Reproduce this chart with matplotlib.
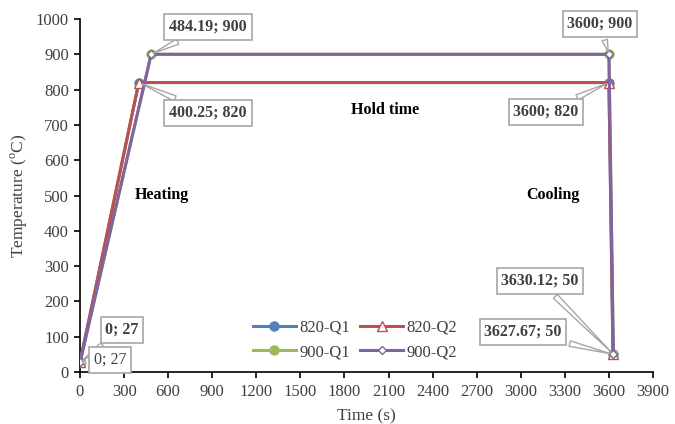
import matplotlib
matplotlib.use("Agg")
import matplotlib.pyplot as plt

plt.rcParams['font.family'] = ['Liberation Serif', 'DejaVu Serif']
plt.rcParams['mathtext.fontset'] = 'custom'
plt.rcParams['mathtext.rm'] = 'Liberation Serif'

# Data
t_820 = [0, 400.25, 3600, 3627.67]
T_820 = [27, 820, 820, 50]
t_900 = [0, 484.19, 3600, 3630.12]
T_900 = [27, 900, 900, 50]
series_names = ['820-Q1', '820-Q2', '900-Q1', '900-Q2']
x_ticks = list(range(0, 3901, 300))
y_ticks = list(range(0, 1001, 100))

c_blue = '#4F81BD'
c_red = '#C0504D'
c_green = '#9BBB59'
c_purple = '#8064A2'

W, H = 675, 424
fig = plt.figure(figsize=(W/100, H/100), dpi=100)
ax = fig.add_axes([80/W, (H-372)/H, (653-80)/W, (372-19)/H])

h1, = ax.plot(t_820, T_820, color=c_blue, lw=2.2, marker='o', ms=6.5, mfc=c_blue, mec=c_blue, label=series_names[0], zorder=3)
h2, = ax.plot(t_820, T_820, color=c_red, lw=2.2, marker='^', ms=6.5, mfc='white', mec=c_red, label=series_names[1], zorder=4)
h3, = ax.plot(t_900, T_900, color=c_green, lw=2.2, marker='o', ms=6.5, mfc=c_green, mec=c_green, label=series_names[2], zorder=3)
h4, = ax.plot(t_900, T_900, color=c_purple, lw=2.2, marker='D', ms=4.5, mfc='white', mec=c_purple, label=series_names[3], zorder=4)

ax.set_xlim(0, 3900)
ax.set_ylim(0, 1000)
ax.set_xticks(x_ticks)
ax.set_yticks(y_ticks)
ax.tick_params(axis='both', labelsize=12, direction='out', length=4, width=1.2,
               color='black', labelcolor='#404040')
ax.tick_params(axis='y', pad=4)
ax.tick_params(axis='x', pad=5)
for s in ['top', 'right']:
    ax.spines[s].set_visible(False)
for s in ['left', 'bottom']:
    ax.spines[s].set_color('black')
    ax.spines[s].set_linewidth(1.2)

ax.set_xlabel('Time (s)', fontsize=12.5, color='#404040', labelpad=6)
ax.set_ylabel(r'Temperature ($^{\mathrm{o}}$C)', fontsize=12.5, color='#404040', labelpad=4)

def fp(px, py):
    return (px, H - py)

box = dict(boxstyle='square,pad=0.3', fc='white', ec='#A6A6A6', lw=1.2)
arrow = dict(arrowstyle='wedge,tail_width=0.35', fc='white', ec='#A6A6A6', lw=1.0)

ann = [
    ('484.19; 900', (t_900[1], T_900[1]), (208, 27), 'bold'),
    ('400.25; 820', (t_820[1], T_820[1]), (208, 113), 'bold'),
    ('3600; 900', (t_900[2], T_900[2]), (600, 24), 'bold'),
    ('3600; 820', (t_820[2], T_820[2]), (546, 112), 'bold'),
    ('3630.12; 50', (t_900[3], T_900[3]), (540, 281), 'bold'),
    ('3627.67; 50', (t_820[3], T_820[3]), (523, 332), 'bold'),
    ('0; 27', (t_900[0], T_900[0]), (122, 330), 'bold'),
    ('0; 27', (t_820[0], T_820[0]), (110, 360), 'normal'),
]
for txt, xy, pos, w in ann:
    ax.annotate(txt, xy=xy, xytext=fp(*pos), textcoords='figure pixels',
                ha='center', va='center', fontsize=11.5, fontweight=w, color='#404040',
                bbox=box, arrowprops=arrow, zorder=6, annotation_clip=False)

fig.text(385/W, 1 - 110/H, 'Hold time', ha='center', va='center', fontsize=11.5, fontweight='bold')
fig.text(162/W, 1 - 195/H, 'Heating', ha='center', va='center', fontsize=11.5, fontweight='bold')
fig.text(553/W, 1 - 195/H, 'Cooling', ha='center', va='center', fontsize=11.5, fontweight='bold')

leg = ax.legend([h1, h3, h2, h4], [series_names[0], series_names[2], series_names[1], series_names[3]],
                loc='center', bbox_to_anchor=((355-80)/(653-80), (372-340)/(372-19)),
                ncol=2, frameon=False, fontsize=12, handlelength=2.6, columnspacing=0.6,
                handletextpad=0.2, labelspacing=0.5)
for t in leg.get_texts():
    t.set_color('#404040')

fig.savefig('out.png', dpi=100)
